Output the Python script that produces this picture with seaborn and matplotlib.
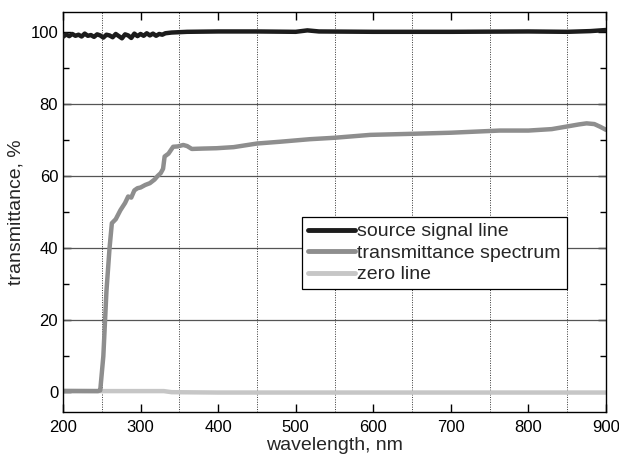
import matplotlib
matplotlib.use("Agg")
import matplotlib.pyplot as plt
import seaborn as sns
import pandas as pd
from matplotlib.ticker import MultipleLocator

# --- data ---
source_wl = [200, 204, 208, 212, 216, 220, 224, 228, 232, 236, 240, 244, 248, 252, 256,
             260, 264, 268, 272, 276, 280, 284, 288, 292, 296, 300, 304, 308, 312, 316,
             320, 324, 328, 332, 340, 360, 400, 450, 500, 515, 530, 600, 700, 800, 850,
             880, 900]
source_val = [98.6, 99.3, 98.8, 99.4, 98.9, 99.2, 98.7, 99.5, 98.9, 99.1, 98.6, 99.3, 99.0,
              98.4, 99.2, 99.0, 98.5, 99.4, 98.8, 98.2, 99.3, 99.0, 98.3, 99.5, 98.8, 99.4,
              98.9, 99.6, 99.0, 99.5, 98.9, 99.4, 99.2, 99.6, 99.8, 100.0, 100.1, 100.1,
              100.0, 100.4, 100.1, 100.0, 100.0, 100.1, 100.0, 100.2, 100.5]

trans_wl = [200, 245, 248, 252, 256, 260, 263, 268, 274, 280, 284, 288, 292, 296, 300,
            306, 312, 318, 322, 326, 329, 331, 336, 342, 348, 355, 360, 366, 380, 398,
            420, 450, 480, 518, 550, 596, 650, 700, 763, 800, 830, 849, 865, 875, 885,
            893, 900]
trans_val = [0.3, 0.3, 0.5, 10.0, 28.0, 40.0, 46.9, 48.0, 50.5, 52.5, 54.3, 54.0, 56.0,
             56.6, 56.8, 57.5, 58.0, 59.0, 60.0, 60.8, 62.0, 65.4, 66.2, 68.1, 68.2,
             68.6, 68.3, 67.5, 67.6, 67.7, 68.0, 69.0, 69.5, 70.2, 70.6, 71.4, 71.7,
             72.0, 72.6, 72.6, 73.0, 73.7, 74.3, 74.6, 74.4, 73.6, 72.8]

zero_wl = [200, 250, 300, 330, 340, 400, 500, 600, 700, 800, 900]
zero_val = [0.4, 0.3, 0.3, 0.3, 0.0, -0.1, -0.1, -0.1, -0.1, -0.1, -0.1]

series_names = ["source signal line", "transmittance spectrum", "zero line"]
series_colors = ["#1c1c1c", "#8e8e8e", "#c6c6c6"]

x_ticks = [200, 300, 400, 500, 600, 700, 800, 900]
y_ticks = [0, 20, 40, 60, 80, 100]

# --- plot ---
sns.set_style("white")
plt.rcParams["font.family"] = ["Liberation Sans", "DejaVu Sans"]

fig = plt.figure(figsize=(6.19, 4.58), dpi=100)
ax = fig.add_axes([63 / 619, 1 - 412 / 458, (606 - 63) / 619, (412 - 12) / 458])

frames = [
    pd.DataFrame({"wl": source_wl, "val": source_val, "s": series_names[0]}),
    pd.DataFrame({"wl": trans_wl, "val": trans_val, "s": series_names[1]}),
    pd.DataFrame({"wl": zero_wl, "val": zero_val, "s": series_names[2]}),
]

for df, name, col, z in zip(frames, series_names, series_colors, [3, 2.5, 2]):
    sns.lineplot(data=df, x="wl", y="val", ax=ax, color=col, linewidth=3.2,
                 label=name, zorder=z, sort=False)

ax.set_xlim(200, 900)
ax.set_ylim(-5.5, 105.5)
ax.set_xticks(x_ticks)
ax.set_yticks(y_ticks)
ax.xaxis.set_minor_locator(MultipleLocator(50))
ax.yaxis.set_minor_locator(MultipleLocator(10))
ax.tick_params(which="both", direction="in", top=True, right=True, bottom=True,
               left=True, colors="black", labelsize=12)
ax.tick_params(which="major", length=6, width=1)
ax.tick_params(which="minor", length=4, width=1)
ax.tick_params(axis="x", which="minor", length=0)
ax.tick_params(axis="x", which="major", pad=6)

ax.grid(False)
for yv in [20, 40, 60, 80]:
    ax.axhline(yv, color="#555555", linewidth=0.9, zorder=1)
for xv in [250, 350, 450, 550, 650, 750, 850]:
    ax.axvline(xv, color="#333333", linewidth=0.7, linestyle=(0, (1, 1.5)), zorder=1)

for sp in ax.spines.values():
    sp.set_color("black")
    sp.set_linewidth(1.0)

ax.set_xlabel("wavelength, nm", fontsize=14, labelpad=1)
ax.set_ylabel("transmittance, %", fontsize=14, labelpad=4)

leg = ax.legend(loc="upper left", bbox_to_anchor=((302 - 63) / 543, 1 - (217 - 12) / 400),
                frameon=True, fancybox=False, framealpha=1, edgecolor="black",
                fontsize=14, handlelength=2.4, handletextpad=0.15, borderpad=0.3,
                labelspacing=0.2, borderaxespad=0)
leg.get_frame().set_linewidth(0.9)
for line in leg.get_lines():
    line.set_linewidth(3.5)

fig.savefig("out.png", dpi=100)
